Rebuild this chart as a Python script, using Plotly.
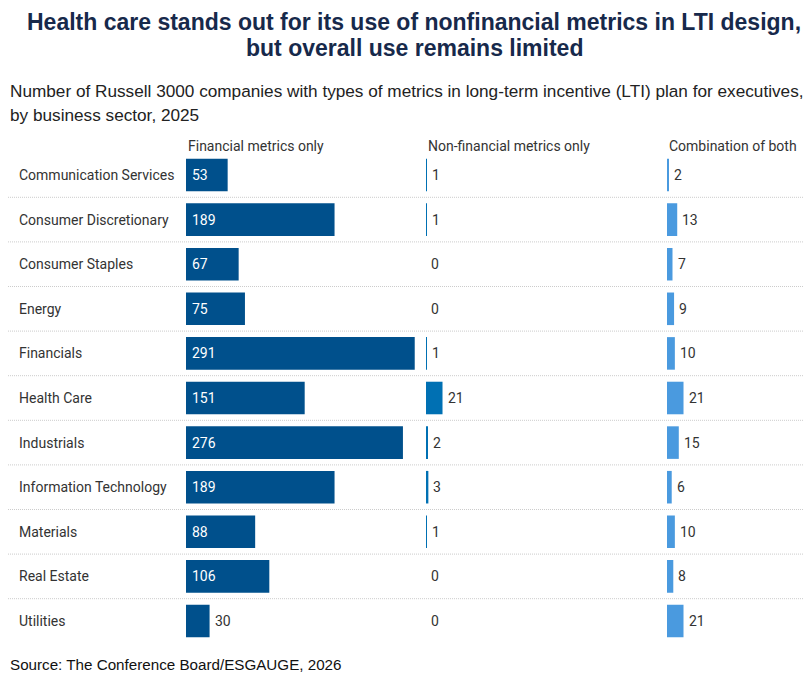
import plotly.graph_objects as go

categories = ["Communication Services", "Consumer Discretionary", "Consumer Staples", "Energy",
              "Financials", "Health Care", "Industrials", "Information Technology",
              "Materials", "Real Estate", "Utilities"]
financial_only = [53, 189, 67, 75, 291, 151, 276, 189, 88, 106, 30]
nonfinancial_only = [1, 1, 0, 0, 1, 21, 2, 3, 1, 0, 0]
combination = [2, 13, 7, 9, 10, 21, 15, 6, 10, 8, 21]
column_titles = ["Financial metrics only", "Non-financial metrics only", "Combination of both"]
series = [financial_only, nonfinancial_only, combination]
colors = ["#00508C", "#0070B3", "#4A9ADF"]

title_lines = ["Health care stands out for its use of nonfinancial metrics in LTI design,",
               "but overall use remains limited"]
subtitle_lines = ["Number of Russell 3000 companies with types of metrics in long-term incentive (LTI) plan for executives,",
                  "by business sector, 2025"]
source_text = "Source: The Conference Board/ESGAUGE, 2026"

W, H = 812, 680
OFF = 8  # page body margin offset
PX_PER_UNIT = 0.786
col_left = [186 - OFF, 426 - OFF, 667 - OFF]
col_right = [426 - OFF, 667 - OFF, 812]

row_top_px, row_bottom_px = 152.7 - OFF, 643.3 - OFF
ydom = [1 - row_bottom_px / H, 1 - row_top_px / H]


def py(px):
    return 1 - (px - OFF) / H


def pxx(px):
    return max(px - OFF, 0) / W


fig = go.Figure()
annotations = []
shapes = []

for i, (vals, col) in enumerate(zip(series, colors)):
    xa = "x" if i == 0 else f"x{i+1}"
    fig.add_trace(go.Bar(
        y=categories, x=vals, orientation="h",
        marker=dict(color=col, line=dict(width=0)),
        xaxis=xa, yaxis="y", hoverinfo="x+y", showlegend=False,
    ))
    width_px = col_right[i] - col_left[i]
    axis = dict(domain=[col_left[i] / W, col_right[i] / W],
                range=[0, width_px / PX_PER_UNIT],
                showgrid=False, zeroline=False, showticklabels=False,
                showline=False, fixedrange=True)
    if i > 0:
        axis["anchor"] = "y"
    fig.layout["xaxis" if i == 0 else f"xaxis{i+1}"] = axis

    annotations.append(dict(
        text=column_titles[i], xref="paper", yref="paper",
        x=col_left[i] / W, y=py(146), xanchor="left", yanchor="middle",
        showarrow=False, font=dict(family="Roboto", size=14, color="#333333")))

    for cat, v in zip(categories, vals):
        inside = v * PX_PER_UNIT > 40
        annotations.append(dict(
            text=str(v), xref=xa, yref="y",
            x=0 if inside else v, y=cat,
            xanchor="left", yanchor="middle", xshift=4 if inside else 3,
            showarrow=False,
            font=dict(family="Roboto", size=14, color="#FFFFFF" if inside else "#333333")))

for idx, cat in enumerate(categories):
    annotations.append(dict(
        text=cat, xref="paper", yref="y", x=pxx(17), y=cat,
        xanchor="left", yanchor="middle", showarrow=False,
        font=dict(family="Roboto", size=14, color="#333333")))
    if idx < len(categories) - 1:
        shapes.append(dict(type="line", xref="paper", yref="y",
                           x0=0, x1=1, y0=idx + 0.5, y1=idx + 0.5,
                           line=dict(color="#CCCCCC", width=1, dash="1px,1px")))

for line, ypos in zip(title_lines, [22, 48]):
    annotations.append(dict(
        text=f"<b>{line}</b>", xref="paper", yref="paper", x=(414 - OFF) / W, y=py(ypos),
        xanchor="center", yanchor="middle", showarrow=False,
        font=dict(family="Liberation Sans", size=23, color="#17294B")))
for line, ypos in zip(subtitle_lines, [91, 115]):
    annotations.append(dict(
        text=line, xref="paper", yref="paper", x=pxx(6), y=py(ypos),
        xanchor="left", yanchor="middle", showarrow=False,
        font=dict(family="Liberation Sans", size=17.2, color="#222222")))
annotations.append(dict(
    text=source_text, xref="paper", yref="paper", x=pxx(6), y=py(664),
    xanchor="left", yanchor="middle", showarrow=False,
    font=dict(family="Liberation Sans", size=15.2, color="#111111")))

fig.update_layout(
    width=W, height=H,
    margin=dict(l=0, r=0, t=0, b=0),
    paper_bgcolor="white", plot_bgcolor="white",
    bargap=0.27,
    yaxis=dict(domain=ydom, autorange="reversed", showticklabels=False,
               showgrid=False, zeroline=False, showline=False, fixedrange=True,
               categoryorder="array", categoryarray=categories),
    annotations=annotations, shapes=shapes,
)

fig.write_html("out.html")
